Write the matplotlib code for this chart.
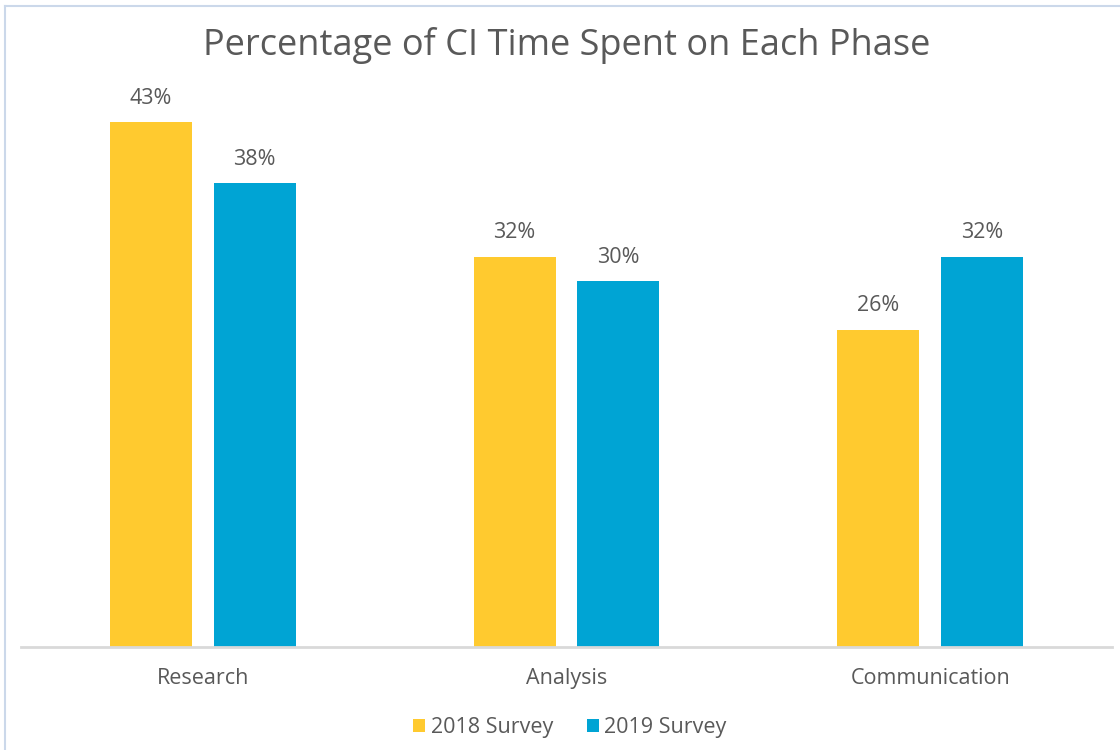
import matplotlib
matplotlib.use("Agg")
import matplotlib.pyplot as plt
from matplotlib.lines import Line2D
from matplotlib.patches import Patch
import numpy as np

plt.rcParams['font.family'] = ['Open Sans', 'DejaVu Sans']

phases = ["Research", "Analysis", "Communication"]
survey_2018 = [43, 32, 26]
survey_2019 = [38, 30, 32]
series_names = ["2018 Survey", "2019 Survey"]
colors = ["#FFCA2F", "#00A4D4"]
text_color = "#595959"

fig = plt.figure(figsize=(11.2, 7.5), dpi=100)
ax = fig.add_axes([21 / 1120, 1 - 647 / 750, (1112 - 21) / 1120, 549 / 750])

x = np.arange(len(phases))
width = 0.225
offset = 0.1425
for vals, dx, c in ((survey_2018, -offset, colors[0]), (survey_2019, offset, colors[1])):
    bars = ax.bar(x + dx, vals, width=width, color=c, zorder=2)
    for b, v in zip(bars, vals):
        ax.text(b.get_x() + b.get_width() / 2, v + 1.1, f"{v}%",
                ha="center", va="bottom", fontsize=15.5, color=text_color)

ax.set_xlim(-0.5, len(phases) - 0.5)
ax.set_ylim(0, 45)
ax.set_yticks([])
ax.set_xticks(x)
ax.set_xticklabels(phases, fontsize=15.5, color=text_color)
ax.tick_params(axis="x", length=0, pad=15)
for s in ("top", "right", "left"):
    ax.spines[s].set_visible(False)
ax.spines["bottom"].set_color("#D9D9D9")
ax.spines["bottom"].set_linewidth(2)

fig.text(567 / 1120, 1 - 45 / 750, "Percentage of CI Time Spent on Each Phase",
         ha="center", va="center", fontsize=26, color=text_color)

handles = [Patch(facecolor=c, edgecolor="none") for c in colors]
fig.legend(handles, series_names, loc="center", bbox_to_anchor=(570 / 1120, 1 - 728 / 750),
           ncol=2, frameon=False, fontsize=15.5, labelcolor=text_color,
           handlelength=0.55, handleheight=0.55, handletextpad=0.25, columnspacing=1.6)

# light frame around the chart area
fig.add_artist(Line2D([4.5 / 1120, 4.5 / 1120], [0, 1 - 6 / 750], transform=fig.transFigure,
                      color="#CBD8EA", lw=1.5))
fig.add_artist(Line2D([4.5 / 1120, 1], [1 - 6 / 750, 1 - 6 / 750], transform=fig.transFigure,
                      color="#CBD8EA", lw=1.5))

fig.savefig("out.png", dpi=100)
